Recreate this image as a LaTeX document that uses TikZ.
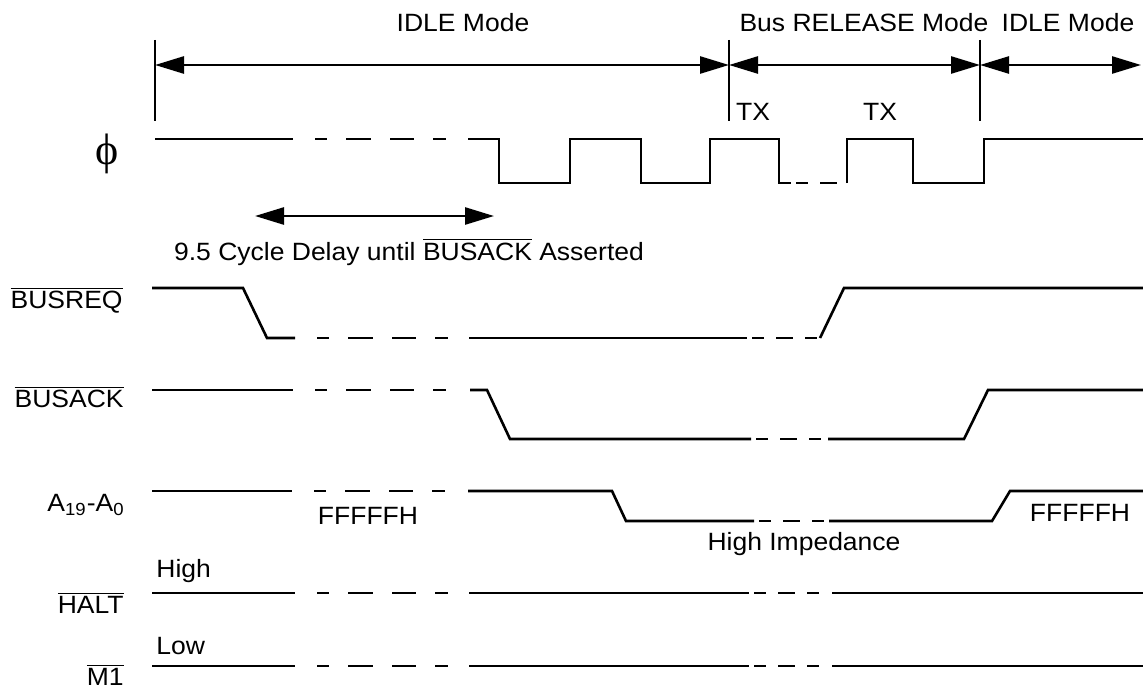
\documentclass[tikz,border=0pt]{standalone}
\usepackage{fontspec}
\setmainfont{Liberation Sans}[FakeStretch=1.06]
\newfontfamily\phifont{Liberation Serif}
\usetikzlibrary{arrows.meta}

\begin{document}
\begin{tikzpicture}[
    x=0.5pt, y=-0.5pt,
    font=\fontsize{12.5}{15}\selectfont,
    wave/.style={line width=1.3pt, line join=miter},
    longbrk/.style={wave, dash pattern=on 0pt off 11pt on 6pt off 9.5pt on 12.5pt off 9.5pt on 12pt off 9.5pt on 6.5pt off 11pt},
    shortbrk/.style={wave, dash pattern=on 0pt off 2.5pt on 6pt off 6pt on 8.5pt off 6pt on 6pt off 6.5pt},
    tick/.style={line width=1.3pt},
    span/.style={line width=1.3pt, {Triangle[length=14.5pt,width=8.5pt]}-{Triangle[length=14.5pt,width=8.5pt]}},
    sig/.style={anchor=east, inner sep=0pt},
    lbl/.style={inner sep=0pt}
]
    \useasboundingbox (0,0) rectangle (1143,690);

    \coordinate (m0) at (155,65);
    \coordinate (m1) at (729,65);
    \coordinate (m2) at (980,65);
    \coordinate (m3) at (1141,65);
    \draw[tick] (155,40) -- (155,121);
    \draw[tick] (729,40) -- (729,121);
    \draw[tick] (980,40) -- (980,121);
    \draw[span] (m0) -- (m1);
    \draw[span] (m1) -- (m2);
    \draw[span] (m2) -- (m3);

    \node[lbl] (idle1) at (463,23) {IDLE Mode};
    \node[lbl] (release) at (864,23) {Bus RELEASE Mode};
    \node[lbl] (idle2) at (1068,23) {IDLE Mode};
    \node[lbl] (tx1) at (753,112) {TX};
    \node[lbl] (tx2) at (880,112) {TX};

    \node[lbl] (phi) at (107,154) {\phifont\fontsize{22}{26}\selectfont ϕ};
    \draw[wave] (155,139) -- (293,139);
    \draw[longbrk] (293,139) -- (468,139);
    \draw[wave] (468,139) -- (499,139) -- (499,183) -- (570,183) -- (570,139) -- (641,139)
        -- (641,183) -- (710,183) -- (710,139) -- (779,139) -- (779,183) -- (791,183);
    \draw[shortbrk] (791,183) -- (847,183);
    \draw[wave] (847,183) -- (847,139) -- (913,139) -- (913,183) -- (984,183) -- (984,139) -- (1143,139);

    \coordinate (d0) at (255,216);
    \coordinate (d1) at (494,216);
    \draw[span] (d0) -- (d1);
    \node[lbl] (delay) at (409,252) {9.5 Cycle Delay until \(\overline{\mbox{BUSACK}}\) Asserted};

    \node[sig] (busreq) at (123,300) {\(\overline{\mbox{BUSREQ}}\)};
    \draw[wave] (152,288) -- (243,288) -- (267,338) -- (295,338);
    \draw[longbrk] (295,338) -- (469,338);
    \draw[wave] (469,338) -- (747,338);
    \draw[shortbrk] (747,338) -- (820,338);
    \draw[wave] (820,338) -- (844,288) -- (1143,288);

    \node[sig] (busack) at (124,397) {\(\overline{\mbox{BUSACK}}\)};
    \draw[wave] (152,390) -- (293,390);
    \draw[longbrk] (293,390) -- (470,390);
    \draw[wave] (470,390) -- (487,390) -- (510,439) -- (751,439);
    \draw[shortbrk] (751,439) -- (828,439);
    \draw[wave] (828,439) -- (964,439) -- (988,390) -- (1143,390);

    \node[sig] (addr) at (125,505) {A\textsubscript{19}-A\textsubscript{0}};
    \draw[wave] (152,491) -- (292,491);
    \draw[longbrk] (292,491) -- (468,491);
    \draw[wave] (468,491) -- (612,491) -- (626,521) -- (754,521);
    \draw[shortbrk] (754,521) -- (829,521);
    \draw[wave] (829,521) -- (992,521) -- (1010,491) -- (1143,491);
    \node[lbl] (ffff1) at (368,516) {FFFFFH};
    \node[lbl] (ffff2) at (1080,513) {FFFFFH};
    \node[lbl] (hiz) at (804,544) {High Impedance};

    \node[lbl, anchor=west] (high) at (156,571) {High};
    \node[sig] (halt) at (124,603) {\(\overline{\mbox{HALT}}\)};
    \draw[wave] (152,593) -- (295,593);
    \draw[longbrk] (295,593) -- (469,593);
    \draw[wave] (469,593) -- (749,593);
    \draw[shortbrk] (749,593) -- (832,593);
    \draw[wave] (832,593) -- (1143,593);

    \node[lbl, anchor=west] (low) at (156,646) {Low};
    \node[sig] (mone) at (124,675) {\(\overline{\mbox{M1}}\)};
    \draw[wave] (152,666) -- (295,666);
    \draw[longbrk] (295,666) -- (469,666);
    \draw[wave] (469,666) -- (749,666);
    \draw[shortbrk] (749,666) -- (832,666);
    \draw[wave] (832,666) -- (1143,666);
\end{tikzpicture}
\end{document}
